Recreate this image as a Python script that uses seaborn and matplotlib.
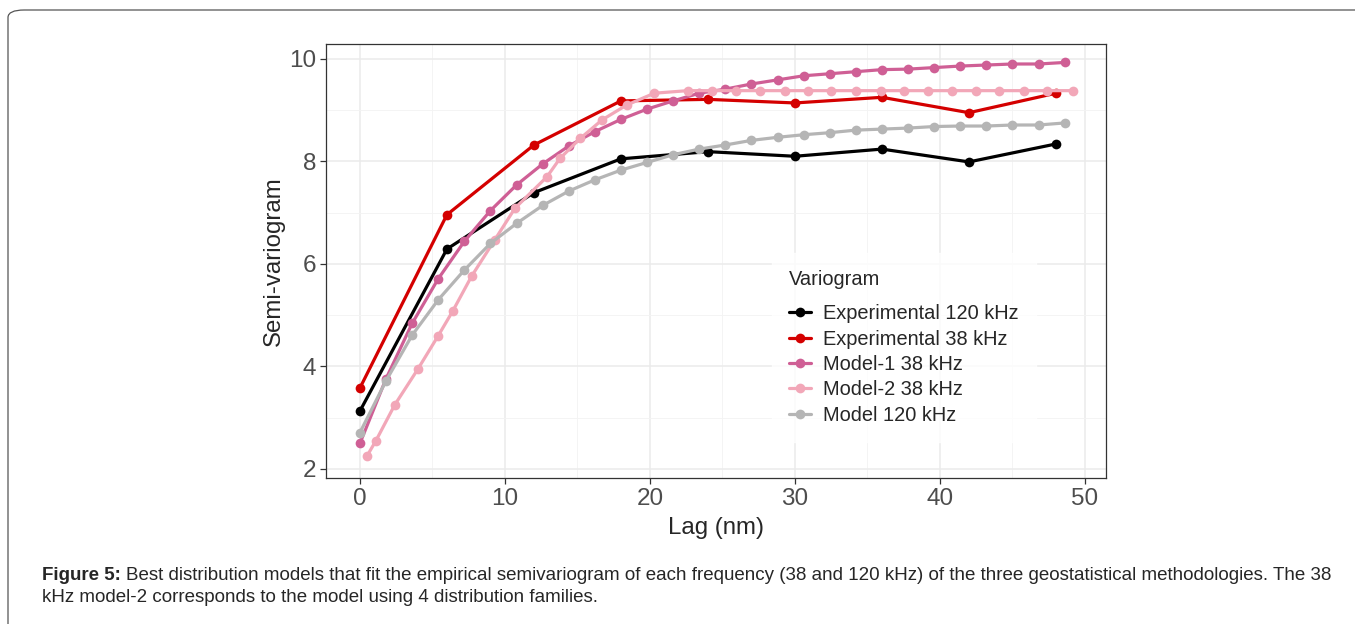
import pandas as pd
import numpy as np
import seaborn as sns
import matplotlib.pyplot as plt
from matplotlib.patches import FancyBboxPatch

# experimental variograms (lag bins every 6 nm)
exp_lag = [0, 6, 12, 18, 24, 30, 36, 42, 48]
exp_120 = [3.13, 6.29, 7.39, 8.05, 8.19, 8.10, 8.24, 7.99, 8.34]
exp_38 = [3.58, 6.96, 8.32, 9.18, 9.21, 9.14, 9.25, 8.95, 9.33]

# fitted models
mod_lag = [0, 1.8, 3.6, 5.4, 7.2, 9.0, 10.8, 12.6, 14.4, 16.2, 18.0, 19.8, 21.6, 23.4,
           25.2, 27.0, 28.8, 30.6, 32.4, 34.2, 36.0, 37.8, 39.6, 41.4, 43.2, 45.0, 46.8, 48.6]
mod1_38 = [2.50, 3.76, 4.84, 5.71, 6.44, 7.04, 7.54, 7.95, 8.30, 8.58, 8.82, 9.02, 9.18, 9.33,
           9.41, 9.51, 9.59, 9.67, 9.71, 9.75, 9.79, 9.80, 9.83, 9.86, 9.88, 9.90, 9.90, 9.93]
mod_120 = [2.71, 3.72, 4.61, 5.30, 5.88, 6.40, 6.79, 7.14, 7.42, 7.64, 7.83, 7.98, 8.13, 8.24,
           8.32, 8.41, 8.47, 8.52, 8.56, 8.61, 8.63, 8.65, 8.68, 8.69, 8.69, 8.71, 8.71, 8.75]
mod2_lag = [0.5, 1.1, 2.4, 4.0, 5.4, 6.4, 7.7, 9.3, 10.7, 12.9, 13.8, 15.2, 16.7, 18.4, 20.3,
            22.6, 24.3, 25.9, 27.6, 29.3, 30.9, 32.5, 34.2, 35.9, 37.5, 39.2, 40.8, 42.5,
            44.1, 45.8, 47.4, 49.2]
mod2_38 = [2.26, 2.55, 3.25, 3.95, 4.60, 5.08, 5.76, 6.47, 7.09, 7.70, 8.06, 8.45, 8.81, 9.10,
           9.33, 9.38, 9.38, 9.38, 9.38, 9.38, 9.38, 9.38, 9.38, 9.38, 9.38, 9.38, 9.38, 9.38,
           9.38, 9.38, 9.38, 9.38]

names = ['Experimental 120 kHz', 'Experimental 38 kHz', 'Model-1 38 kHz', 'Model-2 38 kHz', 'Model 120 kHz']
colors = ['#000000', '#D40000', '#CF5F95', '#F2A7B8', '#B5B5B5']

caption_bold = 'Figure 5:'
caption_1 = ('Best distribution models that fit the empirical semivariogram of each frequency '
             '(38 and 120 kHz) of the three geostatistical methodologies. The 38')
caption_2 = 'kHz model-2 corresponds to the model using 4 distribution families.'

df = pd.concat([
    pd.DataFrame({'lag': exp_lag, 'gamma': exp_120, 'Variogram': names[0]}),
    pd.DataFrame({'lag': exp_lag, 'gamma': exp_38, 'Variogram': names[1]}),
    pd.DataFrame({'lag': mod_lag, 'gamma': mod1_38, 'Variogram': names[2]}),
    pd.DataFrame({'lag': mod2_lag, 'gamma': mod2_38, 'Variogram': names[3]}),
    pd.DataFrame({'lag': mod_lag, 'gamma': mod_120, 'Variogram': names[4]}),
], ignore_index=True)

sns.set_style('white')
plt.rcParams['font.family'] = ['Liberation Sans', 'DejaVu Sans']

fig = plt.figure(figsize=(13.55, 6.24), dpi=100)
ax = fig.add_axes([326/1355, 1-478/624, 780/1355, 434/624])

# outer frame of the figure box
fig.patches.append(FancyBboxPatch((8/1355, -0.05), 1.05, 1-10/624+0.05,
                                  boxstyle='round,pad=0,rounding_size=0.012',
                                  transform=fig.transFigure, fill=False,
                                  edgecolor='#555555', linewidth=0.9))

sns.lineplot(data=df, x='lag', y='gamma', hue='Variogram', hue_order=names,
             palette=colors, marker='o', markersize=7, markeredgewidth=0,
             linewidth=2.3, sort=True, ax=ax, zorder=3)

ax.set_xlim(-2.34, 51.45)
ax.set_ylim(1.824, 10.29)
ax.set_xticks([0, 10, 20, 30, 40, 50])
ax.set_yticks([2, 4, 6, 8, 10])
ax.set_xticks([5, 15, 25, 35, 45], minor=True)
ax.set_yticks([3, 5, 7, 9], minor=True)
ax.grid(True, which='major', color='#EBEBEB', linewidth=1.1, zorder=0)
ax.grid(True, which='minor', color='#F3F3F3', linewidth=0.6, zorder=0)
ax.set_axisbelow(True)
for s in ax.spines.values():
    s.set_color('#333333')
    s.set_linewidth(0.9)
ax.tick_params(which='major', length=4, width=0.9, color='#333333', pad=3,
               labelsize=17.5, labelcolor='#4D4D4D', bottom=True, left=True)
ax.tick_params(which='minor', length=0)
ax.set_xlabel('Lag (nm)', fontsize=17.3, labelpad=5)
ax.set_ylabel('Semi-variogram', fontsize=17.3, labelpad=3)

leg = ax.legend(title='Variogram', loc='upper left', bbox_to_anchor=(0.58, 0.505),
                frameon=True, fontsize=14.4, title_fontsize=14.4, handlelength=1.1,
                handletextpad=0.6, borderpad=0.55, labelspacing=0.32, alignment='left',
                borderaxespad=0)
leg._legend_box.sep = 11
leg.get_frame().set_facecolor('white')
leg.get_frame().set_edgecolor('white')
leg.get_frame().set_boxstyle('square')
leg.set_zorder(5)

# caption: bold lead-in followed by regular text
y1 = 1 - 576/624
tb = fig.text(42/1355, y1, caption_bold, fontsize=13.5, fontweight='bold', va='center', ha='left')
fig.canvas.draw()
bb = tb.get_window_extent()
fig.text((bb.x1 + 5)/1355, y1, caption_1, fontsize=13.5, va='center', ha='left')
fig.text(42/1355, 1 - 598/624, caption_2, fontsize=13.5, va='center', ha='left')

fig.savefig('out.png', dpi=100)
